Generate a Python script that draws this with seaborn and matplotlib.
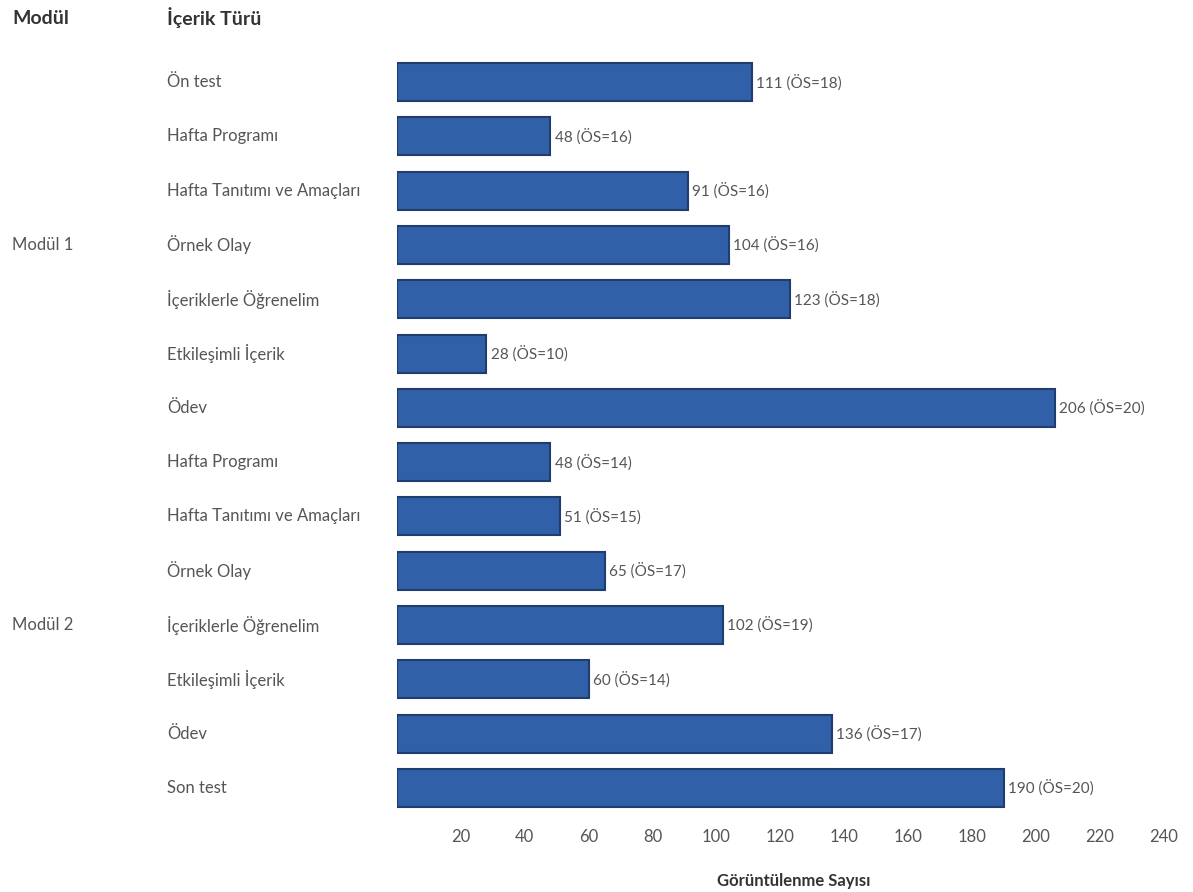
import matplotlib
matplotlib.use("Agg")
import matplotlib.pyplot as plt
import seaborn as sns
import pandas as pd

# Content views per module and content type
modules = ["Modül 1"] * 7 + ["Modül 2"] * 7
content_types = [
    "Ön test", "Hafta Programı", "Hafta Tanıtımı ve Amaçları", "Örnek Olay",
    "İçeriklerle Öğrenelim", "Etkileşimli İçerik", "Ödev",
    "Hafta Programı", "Hafta Tanıtımı ve Amaçları", "Örnek Olay",
    "İçeriklerle Öğrenelim", "Etkileşimli İçerik", "Ödev", "Son test",
]
views = [111, 48, 91, 104, 123, 28, 206, 48, 51, 65, 102, 60, 136, 190]
students = [18, 16, 16, 16, 18, 10, 20, 14, 15, 17, 19, 14, 17, 20]
x_ticks = [20, 40, 60, 80, 100, 120, 140, 160, 180, 200, 220, 240]

df = pd.DataFrame({
    "Modül": modules,
    "İçerik Türü": content_types,
    "Görüntülenme Sayısı": views,
    "ÖS": students,
})
df["row"] = [f"{m} | {c} | {i}" for i, (m, c) in enumerate(zip(modules, content_types))]

sns.set_theme(style="white")
plt.rcParams["font.family"] = ["Lato", "DejaVu Sans"]

fig = plt.figure(figsize=(11.93, 8.92), dpi=100)
ax = fig.add_axes([397 / 1193, 1 - 815 / 892, (1190 - 397) / 1193, (815 - 55) / 892])

bar_color = "#3060a8"
sns.barplot(data=df, x="Görüntülenme Sayısı", y="row", order=list(df["row"]),
            orient="h", color=bar_color, width=0.7, saturation=1,
            edgecolor="#203d70", linewidth=1.5, ax=ax)

ax.set_xlim(0, (1190 - 397) / 3.195)
ax.set_xticks(x_ticks)
ax.set_xticklabels([str(t) for t in x_ticks], fontsize=12, color="#555555")
ax.tick_params(axis="x", length=0, pad=10)
ax.set_yticks([])
ax.set_ylabel("")
ax.set_xlabel("Görüntülenme Sayısı", fontsize=12, fontweight="bold", color="#333333", labelpad=20)
for s in ax.spines.values():
    s.set_visible(False)

text_color = "#555555"
# Value labels next to each bar
for i, (v, n) in enumerate(zip(views, students)):
    ax.text(v + 1.3, i, f"{v} (ÖS={n})", va="center", ha="left", fontsize=11, color=text_color)

# Row headers: content type column
for i, c in enumerate(content_types):
    ax.annotate(c, xy=(167 / 1193, i), xycoords=("figure fraction", "data"),
                va="center", ha="left", fontsize=12, color=text_color)

# Module column, centred on each module's block of rows
for mod in ["Modül 1", "Modül 2"]:
    idx = [i for i, m in enumerate(modules) if m == mod]
    ax.annotate(mod, xy=(12 / 1193, (idx[0] + idx[-1]) / 2), xycoords=("figure fraction", "data"),
                va="center", ha="left", fontsize=12, color=text_color)

# Column headers
fig.text(12 / 1193, 1 - 18 / 892, "Modül", fontsize=14, fontweight="bold", color="#333333", va="center")
fig.text(167 / 1193, 1 - 18 / 892, "İçerik Türü", fontsize=14, fontweight="bold", color="#333333", va="center")

fig.savefig("out.png", dpi=100)
